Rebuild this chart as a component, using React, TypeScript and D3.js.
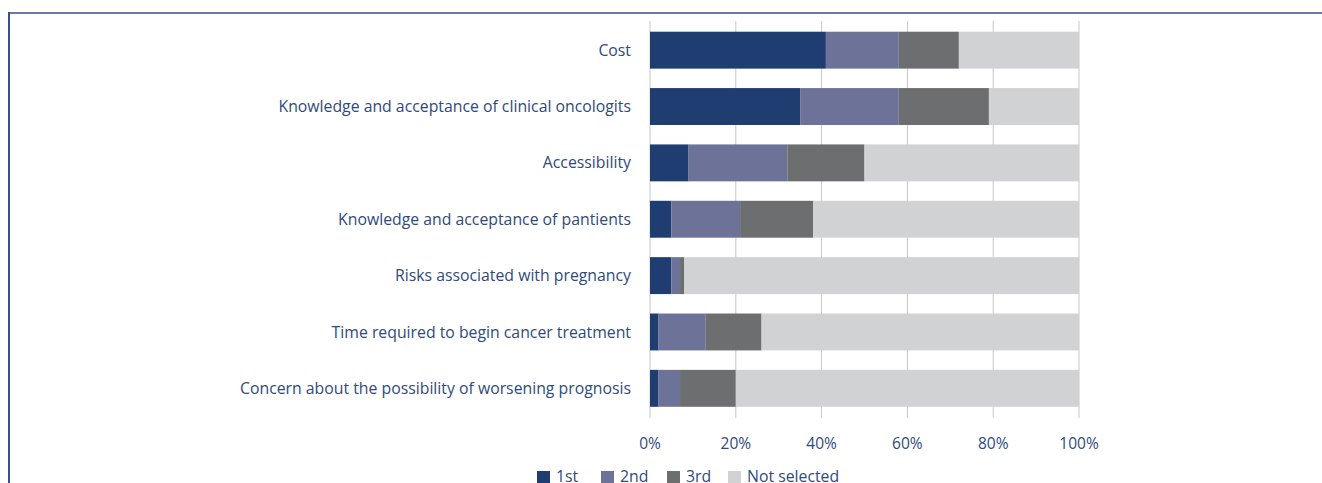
import React from "react";
import * as d3 from "d3";

const categories = [
  "Cost",
  "Knowledge and acceptance of clinical oncologits",
  "Accessibility",
  "Knowledge and acceptance of pantients",
  "Risks associated with pregnancy",
  "Time required to begin cancer treatment",
  "Concern about the possibility of worsening prognosis",
];
const seriesNames = ["1st", "2nd", "3rd", "Not selected"];
const first = [41, 35, 9, 5, 5, 2, 2];
const second = [17, 23, 23, 16, 2, 11, 5];
const third = [14, 21, 18, 17, 1, 13, 13];
const notSelected = [28, 21, 50, 62, 92, 74, 80];
const ticks = [0, 20, 40, 60, 80, 100];
const colors = ["#1f3d70", "#6d7398", "#6d6e70", "#d1d2d4"];

const W = 1322;
const H = 483;
const FONT = "'Open Sans', Roboto, sans-serif";
const TEXT = "#2f4a7c";

export default function App() {
  const x = d3.scaleLinear().domain([0, 100]).range([650, 1079]);
  const y = d3.scaleBand<string>().domain(categories).range([21, 417.5]).paddingInner(0.345).paddingOuter(0.19);
  const rows = categories.map((c, i) => ({
    c,
    "1st": first[i],
    "2nd": second[i],
    "3rd": third[i],
    "Not selected": notSelected[i],
  }));
  const stack = d3.stack<any>().keys(seriesNames)(rows);
  const legendX = [537, 601, 667, 728];

  return (
    <svg width={W} height={H} style={{ position: "absolute", left: 0, top: 0, display: "block" }} fontFamily={FONT}>
      <rect x={0} y={0} width={W} height={H} fill="#fff" />
      <line x1={8} x2={W} y1={13} y2={13} stroke="#6a7ba0" strokeWidth={2} />
      <line x1={9} x2={9} y1={12} y2={H} stroke="#3f4e84" strokeWidth={2} />
      {ticks.map((t) => (
        <line key={t} x1={x(t)} x2={x(t)} y1={21} y2={418} stroke="#c8c8ca" strokeWidth={1} />
      ))}
      {stack.map((s, si) => (
        <g key={s.key} fill={colors[si]}>
          {s.map((d, i) => (
            <rect key={i} x={x(d[0])} width={x(d[1]) - x(d[0])} y={y(categories[i])} height={y.bandwidth()} />
          ))}
        </g>
      ))}
      {categories.map((c) => (
        <text key={c} x={631} y={(y(c) as number) + y.bandwidth() / 2} dy="0.35em" textAnchor="end" fontSize={15.8} fill={TEXT}>
          {c}
        </text>
      ))}
      {ticks.map((t) => (
        <text key={t} x={x(t)} y={444} dy="0.35em" textAnchor="middle" fontSize={15.5} fill={TEXT}>
          {t}%
        </text>
      ))}
      {seriesNames.map((n, i) => (
        <g key={n}>
          <rect x={legendX[i]} y={471} width={13} height={13} fill={colors[i]} />
          <text x={legendX[i] + 19} y={476.5} dy="0.35em" fontSize={15.8} fill={TEXT}>
            {n}
          </text>
        </g>
      ))}
    </svg>
  );
}
